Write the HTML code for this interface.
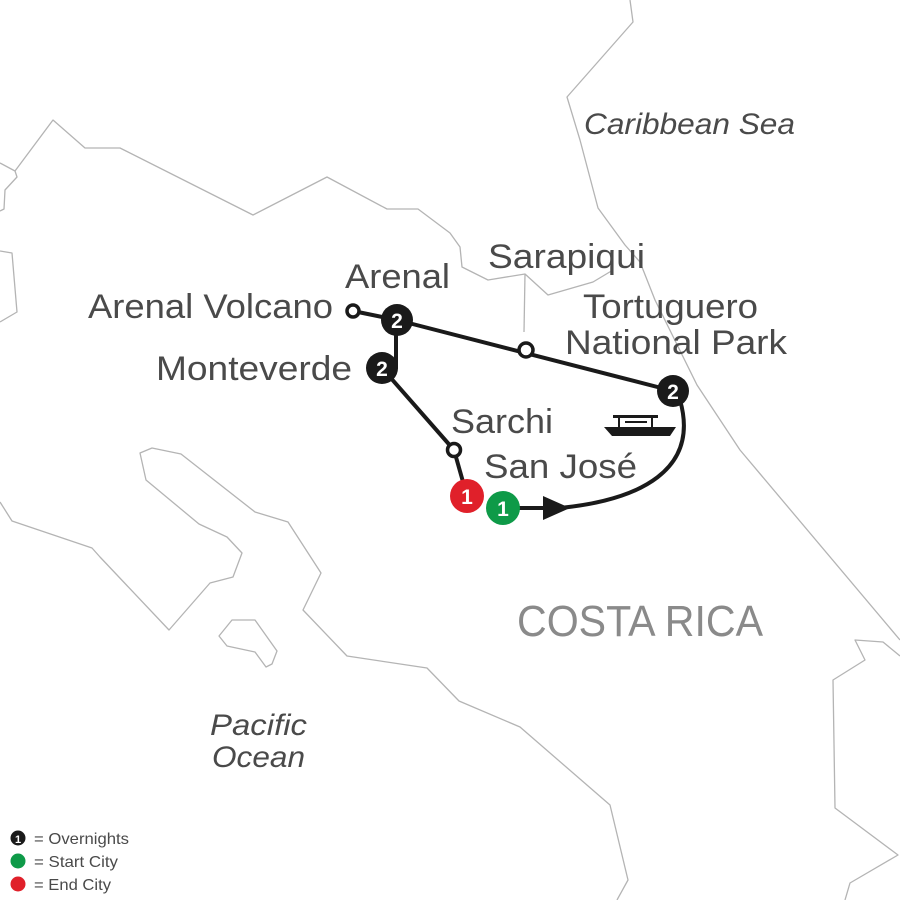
<!DOCTYPE html>
<html><head><meta charset="utf-8"><style>
html,body{margin:0;padding:0;background:#fff;}
svg{display:block;}
text{font-family:"Liberation Sans",sans-serif;}
</style></head><body>
<svg width="900" height="900" viewBox="0 0 900 900" xmlns="http://www.w3.org/2000/svg">
<g fill="none" stroke="#b4b4b4" stroke-width="1.3" stroke-linejoin="round">
<polyline points="15,171 53,120 85,148 120,148 253,215 327,177 387,209 418,209 450,233 460,247 462,267 488,280 525,274 548,295 593,282 613,270"/>
<polyline points="525,274 524,332"/>
<polyline points="630,0 633,22 567,97 580,140 598,208 625,245 640,262 655,300 697,385 740,450 900,640"/>
<polyline points="0,163 15,171 17,177 5,190 4,209 0,211"/>
<polyline points="0,251 12,253 17,312 0,322"/>
<polyline points="0,502 12,521 92,548 100,557 169,630 210,583 233,577 242,553 227,537 199,524 146,480 140,453 152,448 181,454 255,512 288,522 321,573 303,610 347,656 427,668 459,701 520,727 610,805 628,880 617,900"/>
<polygon points="219,636 232,620 255,620 277,651 272,664 266,667 255,652 227,646"/>
<polyline points="900,656 883,642 855,640 865,660 833,680 835,808 898,855 850,883 845,900"/>
</g>
<g fill="none" stroke="#1a1a1a" stroke-width="4" stroke-linecap="round">
<line x1="353" y1="311" x2="397" y2="320"/>
<line x1="397" y1="320" x2="673" y2="391"/>
<line x1="396" y1="320" x2="396" y2="368"/>
<line x1="382" y1="368" x2="454" y2="450"/>
<line x1="454" y1="450" x2="467" y2="496"/>
<line x1="503" y1="508" x2="560" y2="508"/>
<path d="M560,508 C640,500 700,470 680,400"/>
</g>
<polygon points="543,496 570,508 543,520" fill="#1a1a1a"/>
<circle cx="353" cy="311" r="6" fill="#fff" stroke="#1a1a1a" stroke-width="3.5"/>
<circle cx="526" cy="350" r="7" fill="#fff" stroke="#1a1a1a" stroke-width="3.5"/>
<circle cx="454" cy="450" r="6.5" fill="#fff" stroke="#1a1a1a" stroke-width="3.5"/>
<g font-weight="bold" font-size="21" text-anchor="middle" fill="#fff">
<circle cx="397" cy="320" r="16" fill="#1a1a1a"/><text x="397" y="328">2</text>
<circle cx="382" cy="368" r="16" fill="#1a1a1a"/><text x="382" y="376">2</text>
<circle cx="673" cy="391" r="16" fill="#1a1a1a"/><text x="673" y="399">2</text>
<circle cx="467" cy="496" r="17" fill="#e0202a"/><text x="467" y="504">1</text>
<circle cx="503" cy="508" r="17" fill="#0e9a48"/><text x="503" y="516">1</text>
</g>
<g fill="#1a1a1a">
<rect x="613" y="415" width="45" height="3"/>
<rect x="618" y="418" width="2" height="9"/><rect x="651" y="418" width="2" height="9"/>
<rect x="625" y="421" width="22" height="2"/>
<path d="M604,427 L676,427 L670,436 L612,436 Z"/>
</g>
<g fill="#4a4a4a" font-size="34" lengthAdjust="spacingAndGlyphs">
<text x="488" y="268" textLength="157" lengthAdjust="spacingAndGlyphs">Sarapiqui</text>
<text x="345" y="288" textLength="105" lengthAdjust="spacingAndGlyphs">Arenal</text>
<text x="88" y="318" textLength="245" lengthAdjust="spacingAndGlyphs">Arenal Volcano</text>
<text x="583" y="318" textLength="175" lengthAdjust="spacingAndGlyphs">Tortuguero</text>
<text x="565" y="354" textLength="222" lengthAdjust="spacingAndGlyphs">National Park</text>
<text x="156" y="380" textLength="196" lengthAdjust="spacingAndGlyphs">Monteverde</text>
<text x="451" y="433" textLength="102" lengthAdjust="spacingAndGlyphs">Sarchi</text>
<text x="484" y="478" textLength="153" lengthAdjust="spacingAndGlyphs">San José</text>
</g>
<text x="517" y="636" font-size="44" fill="#8a8a8a" textLength="246" lengthAdjust="spacingAndGlyphs">COSTA RICA</text>
<g fill="#4a4a4a" font-size="30" font-style="italic">
<text x="584" y="134" textLength="211" lengthAdjust="spacingAndGlyphs">Caribbean Sea</text>
<text x="210" y="735" textLength="97" lengthAdjust="spacingAndGlyphs">Pacific</text>
<text x="212" y="767" textLength="93" lengthAdjust="spacingAndGlyphs">Ocean</text>
</g>
<g font-size="16" fill="#4a4a4a">
<circle cx="18" cy="838" r="7.5" fill="#1a1a1a"/><text x="18" y="843" font-size="11" font-weight="bold" fill="#fff" text-anchor="middle">1</text>
<text x="34" y="844" textLength="95" lengthAdjust="spacingAndGlyphs">= Overnights</text>
<circle cx="18" cy="861" r="7.5" fill="#0e9a48"/>
<text x="34" y="867" textLength="84" lengthAdjust="spacingAndGlyphs">= Start City</text>
<circle cx="18" cy="884" r="7.5" fill="#e0202a"/>
<text x="34" y="890" textLength="77" lengthAdjust="spacingAndGlyphs">= End City</text>
</g>
</svg>
</body></html>
